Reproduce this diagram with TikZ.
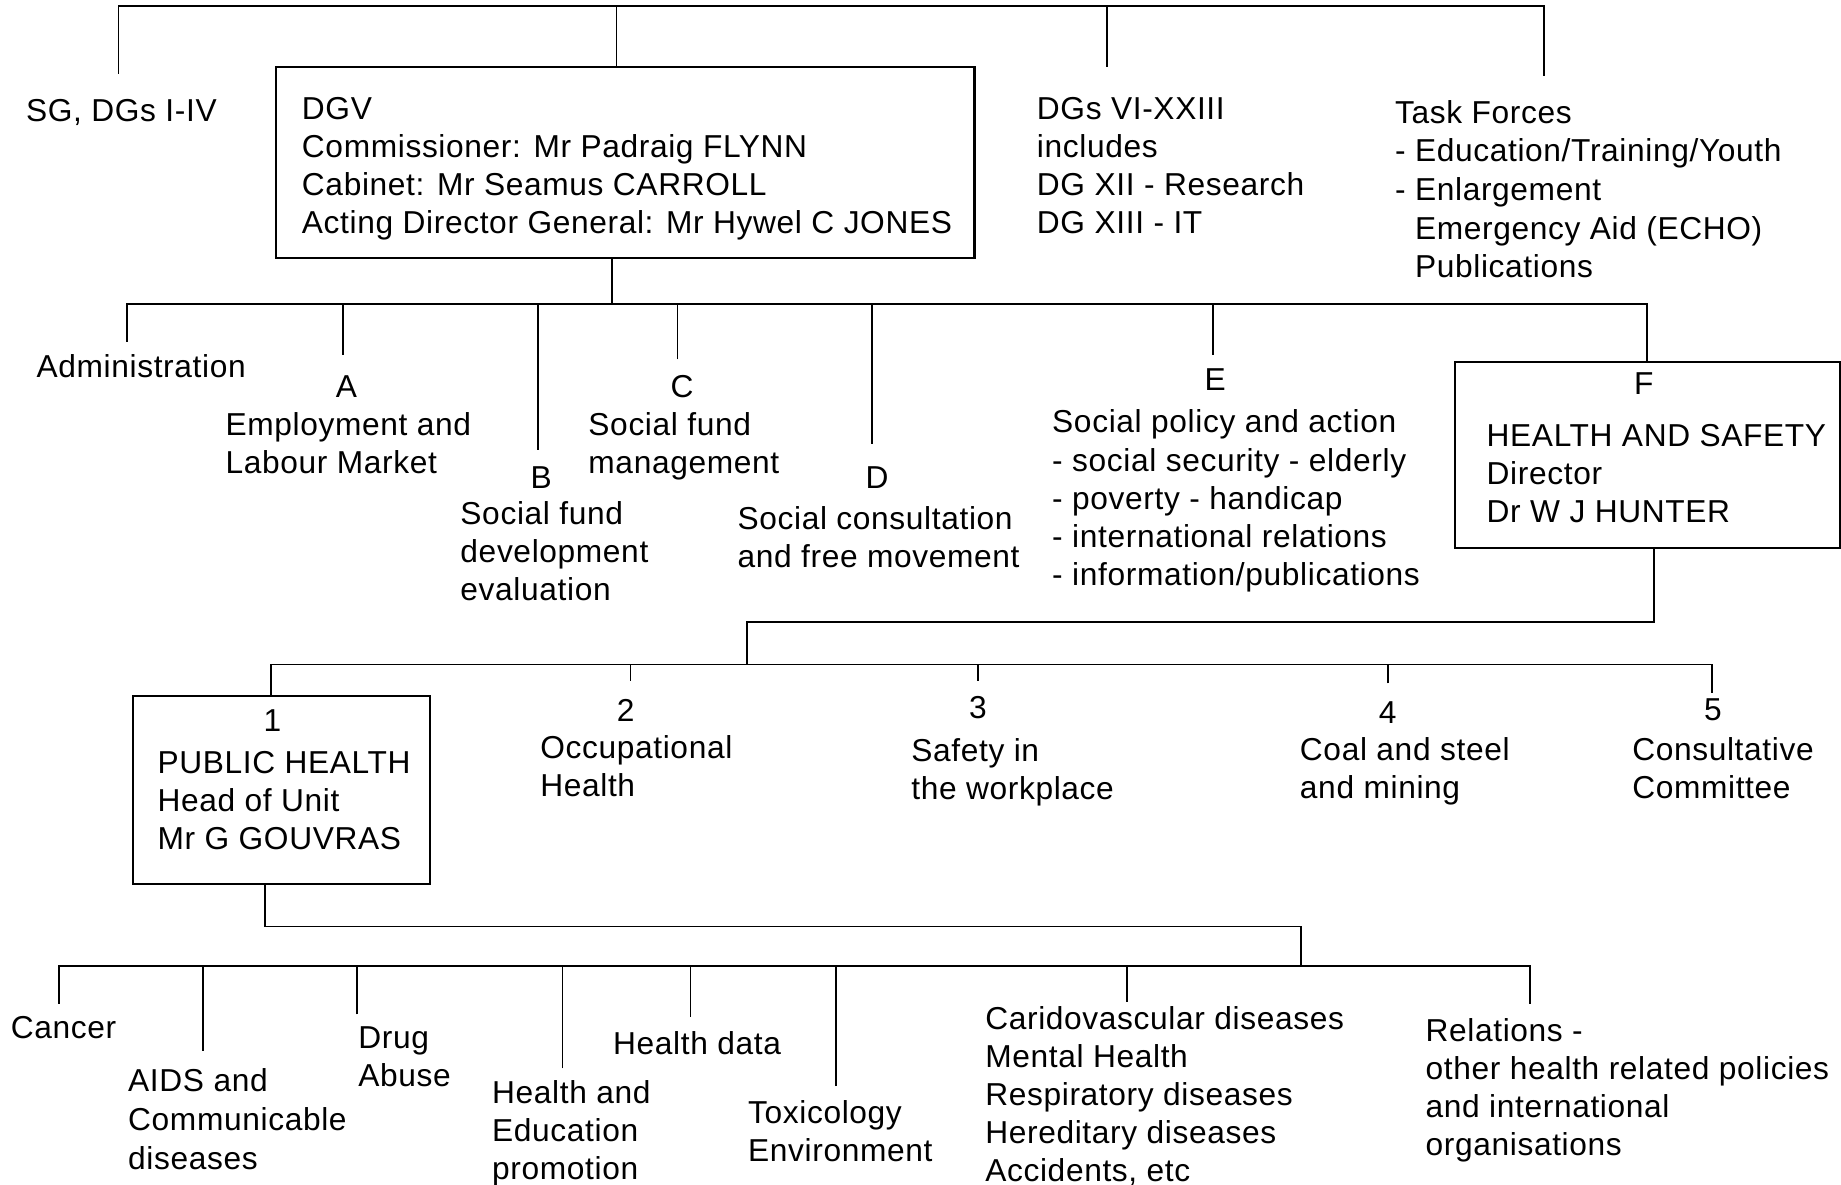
\documentclass[tikz,border=0pt]{standalone}
\usepackage{fontspec}
\setmainfont[LetterSpace=2]{Liberation Sans}
\begin{document}
\begin{tikzpicture}[x=1pt,y=-1pt,font=\fontsize{27}{32.4}\selectfont,
  lbl/.style={anchor=north west,inner sep=0pt,align=left,yshift=-3pt,execute at begin node=\strut},
  unitno/.style={anchor=north,inner sep=0pt,execute at begin node=\strut},
  unitframe/.style={draw,line width=1.8pt,anchor=north west,inner sep=0pt,outer sep=0pt},
  link/.style={line width=1.5pt}]
\useasboundingbox (0,0) rectangle (1568,1009);
% commission level
\node[lbl] (sg) at (22,78) {SG, DGs I-IV};
\node[unitframe,minimum width=595pt,minimum height=163pt] (dgv) at (235,57) {};
\node[lbl] (dgvtext) at (257,80) {DGV\\Commissioner: Mr Padraig FLYNN\\Cabinet: Mr Seamus CARROLL\\Acting Director General: Mr Hywel C JONES};
\node[lbl] (dgs) at (883,80) {DGs VI-XXIII\\includes\\DG XII - Research\\DG XIII - IT};
\node[lbl] (tf) at (1188,82) {Task Forces\\[0.6pt]- Education/Training/Youth\\[0.6pt]- Enlargement\\[0.6pt]\hphantom{- }Emergency Aid (ECHO)\\[0.6pt]\hphantom{- }Publications};
\coordinate (hub1) at (0,5);
\coordinate (dropSG) at (101,63);
\coordinate (dropDGs) at (943,57);
\coordinate (dropTF) at (1315,65);
\coordinate (dgvtop) at ([xshift=-7.5pt]dgv.north);
\draw[link] (dropSG) |- (hub1 -| dropTF) -- (dropTF);
\draw[link] (dgvtop) -- (dgvtop |- hub1);
\draw[link] (dropDGs) -- (dropDGs |- hub1);
% directorates of DGV
\node[lbl] (adm) at (31,296) {Administration};
\node[unitno] (uA) at (295,316) {A};
\node[lbl] (dirA) at (192,348) {Employment and\\Labour Market};
\node[unitno] (uB) at (461,393) {B};
\node[lbl] (dirB) at (392,424) {Social fund\\development\\evaluation};
\node[unitno] (uC) at (581,316) {C};
\node[lbl] (dirC) at (501,348) {Social fund\\management};
\node[unitno] (uD) at (747,393) {D};
\node[lbl] (dirD) at (628,428) {Social consultation\\and free movement};
\node[unitno] (uE) at (1035,310) {E};
\node[lbl] (dirE) at (896,346) {Social policy and action\\- social security - elderly\\- poverty - handicap\\- international relations\\- information/publications};
\node[unitframe,minimum width=328pt,minimum height=159pt] (f) at (1239,308) {};
\node[unitno] (uF) at (1400,313) {F};
\node[lbl] (dirF) at (1266,358) {HEALTH AND SAFETY\\Director\\Dr W J HUNTER};
\coordinate (dgvbot) at ([xshift=-11.5pt]dgv.south);
\coordinate (hub2) at (0,259);
\coordinate (dropAdm) at (108,291);
\coordinate (dropA) at (292,302);
\coordinate (dropB) at (458,383);
\coordinate (dropC) at (577,306);
\coordinate (dropD) at (743,378);
\coordinate (dropE) at (1033,302);
\draw[link] (dgvbot) -- (dgvbot |- hub2);
\draw[link] (dropAdm) |- (hub2 -| f.north) -- (f.north);
\draw[link] (dropA) -- (dropA |- hub2);
\draw[link] (dropB) -- (dropB |- hub2);
\draw[link] (dropC) -- (dropC |- hub2);
\draw[link] (dropD) -- (dropD |- hub2);
\draw[link] (dropE) -- (dropE |- hub2);
% units of health and safety
\node[unitframe,minimum width=253pt,minimum height=160pt] (ph) at (113,593) {};
\node[unitno] (u1) at (232,600) {1};
\node[lbl] (unit1) at (134,637) {PUBLIC HEALTH\\Head of Unit\\Mr G GOUVRAS};
\node[unitno] (u2) at (533,592) {2};
\node[lbl] (unit2) at (460,623) {Occupational\\Health};
\node[unitno] (u3) at (833,589) {3};
\node[lbl] (unit3) at (776,626) {Safety in\\the workplace};
\node[unitno] (u4) at (1182,593) {4};
\node[lbl] (unit4) at (1107,625) {Coal and steel\\and mining};
\node[unitno] (u5) at (1459,591) {5};
\node[lbl] (unit5) at (1390,625) {Consultative\\Committee};
\coordinate (fbot) at ([xshift=6pt]f.south);
\coordinate (hub3) at (636,530);
\coordinate (hub4) at (0,566);
\coordinate (phtop) at ([xshift=-8.5pt]ph.north);
\coordinate (drop2) at (537,580);
\coordinate (drop3) at (833,580);
\coordinate (drop4) at (1182,582);
\coordinate (drop5) at (1458,590);
\draw[link] (fbot) |- (hub3) -- (hub3 |- hub4);
\draw[link] (phtop) |- (hub4 -| drop5) -- (drop5);
\draw[link] (drop2) -- (drop2 |- hub4);
\draw[link] (drop3) -- (drop3 |- hub4);
\draw[link] (drop4) -- (drop4 |- hub4);
% sections of public health
\node[lbl] (cancer) at (9,859) {Cancer};
\node[lbl] (aids) at (109,907) {AIDS and\\[0.6pt]Communicable\\[0.6pt]diseases};
\node[lbl] (drug) at (305,871) {Drug\\[0.6pt]Abuse};
\node[lbl] (promo) at (419,917) {Health and\\Education\\promotion};
\node[lbl] (hdata) at (522,872) {Health data};
\node[lbl] (tox) at (637,934) {Toxicology\\Environment};
\node[lbl] (disease) at (839,854) {Caridovascular diseases\\Mental Health\\Respiratory diseases\\Hereditary diseases\\Accidents, etc};
\node[lbl] (rel) at (1214,864) {Relations -\\other health related policies\\and international\\organisations};
\coordinate (phbot) at ([xshift=-13.5pt]ph.south);
\coordinate (hub5) at (1108,789);
\coordinate (hub6) at (0,823);
\coordinate (dropCancer) at (50,855);
\coordinate (dropAids) at (173,895);
\coordinate (dropDrug) at (304,864);
\coordinate (dropPromo) at (479,910);
\coordinate (dropData) at (588,866);
\coordinate (dropTox) at (712,925);
\coordinate (dropDis) at (960,853);
\coordinate (dropRel) at (1303,855);
\draw[link] (phbot) |- (hub5) -- (hub5 |- hub6);
\draw[link] (dropCancer) |- (hub6 -| dropRel) -- (dropRel);
\draw[link] (dropAids) -- (dropAids |- hub6);
\draw[link] (dropDrug) -- (dropDrug |- hub6);
\draw[link] (dropPromo) -- (dropPromo |- hub6);
\draw[link] (dropData) -- (dropData |- hub6);
\draw[link] (dropTox) -- (dropTox |- hub6);
\draw[link] (dropDis) -- (dropDis |- hub6);
\end{tikzpicture}
\end{document}
